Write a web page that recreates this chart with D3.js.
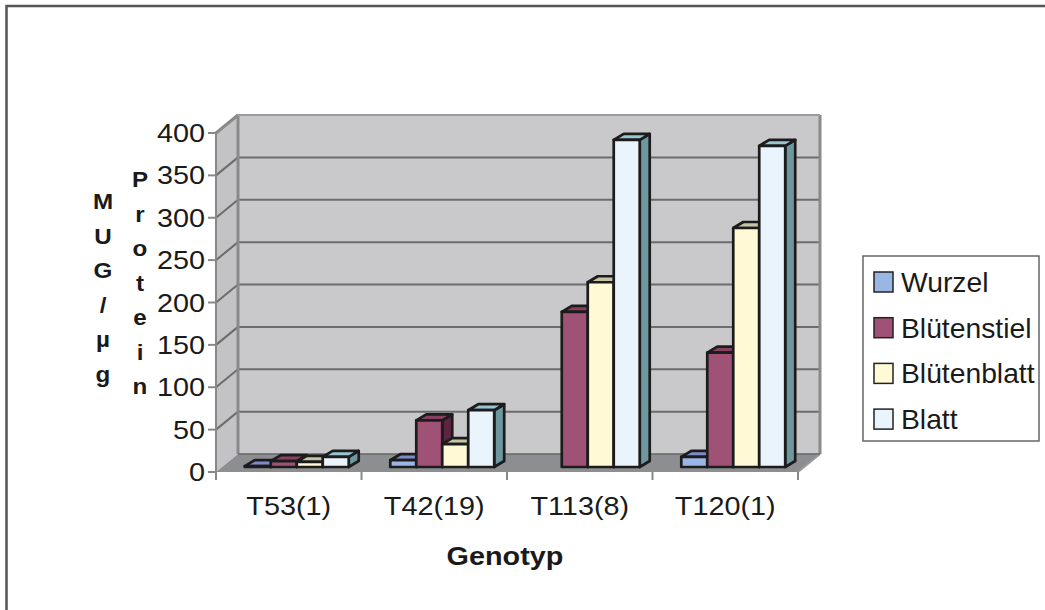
<!DOCTYPE html>
<html>
<head>
<meta charset="utf-8">
<script src="https://cdn.jsdelivr.net/npm/d3@7"></script>
<style>
  html, body { margin: 0; padding: 0; background: #fff; }
  svg { display: block; font-family: "Liberation Sans", Arial, sans-serif; }
</style>
</head>
<body>
<div id="chart"></div>
<script>
// data
const genotypes = ['T53(1)', 'T42(19)', 'T113(8)', 'T120(1)'];
const seriesNames = ['Wurzel', 'Blütenstiel', 'Blütenblatt', 'Blatt'];
const wurzel = [1, 8, null, 12];
const bluetenstiel = [7, 55, 183, 135];
const bluetenblatt = [6, 27, 218, 282];
const blatt = [12, 67, 386, 379];
const yTicks = [0, 50, 100, 150, 200, 250, 300, 350, 400];
const yTitleLeft = ['M', 'U', 'G', '/', 'µ', 'g'];
const yTitleRight = ['P', 'r', 'o', 't', 'e', 'i', 'n'];

const seriesValues = [wurzel, bluetenstiel, bluetenblatt, blatt];
const colors = [
  { front: '#99b6e4', top: '#7e8bca', side: '#5d6a9f' },
  { front: '#a05176', top: '#87405f', side: '#5c2441' },
  { front: '#fff9d6', top: '#c7c4a6', side: '#a3a189' },
  { front: '#eaf4fc', top: '#97c5d2', side: '#6f979f' }
];

const W = 1045, H = 610;
const x0 = 216, x1 = 798;          // front edge of floor
const DX = 22, DY = -18;           // wall depth
const BDX = 8, BDY = -5;           // bar position in depth
const BW = 10, BH = -6;            // bar depth

const svg = d3.select('#chart').append('svg')
  .attr('width', W).attr('height', H);

// outer frame
svg.append('rect')
  .attr('x', 6.5).attr('y', 6).attr('width', W + 20).attr('height', H + 20)
  .attr('fill', 'none').attr('stroke', '#555').attr('stroke-width', 2.5);

// Create scales
const xScale = d3.scaleBand().domain(genotypes).range([x0, x1]);
const inner = d3.scaleBand().domain(seriesNames)
  .range([0, xScale.bandwidth()]).paddingInner(0).paddingOuter(0.8);
const yScale = d3.scaleLinear().domain([0, 400]).range([472, 133]);

const yb = yScale(0);
const yt = yScale(400);

// walls
svg.append('polygon')
  .attr('points', [[x0, yb], [x0 + DX, yb + DY], [x0 + DX, yt + DY], [x0, yt]].join(' '))
  .attr('fill', '#c3c3c5');
svg.append('polygon')
  .attr('points', [[x0 + DX, yt + DY], [x1 + DX, yt + DY], [x1 + DX, yb + DY], [x0 + DX, yb + DY]].join(' '))
  .attr('fill', '#c9c9cb');
svg.append('polygon')
  .attr('points', [[x0, yb], [x1, yb], [x1 + DX, yb + DY], [x0 + DX, yb + DY]].join(' '))
  .attr('fill', '#8d8e91');

// gridlines on back wall and side wall
const grid = svg.append('g').attr('stroke', '#6c6c6c').attr('stroke-width', 2);
yTicks.filter(d => d > 0).forEach(d => {
  const y = yScale(d);
  grid.append('line')
    .attr('x1', x0 + DX).attr('x2', x1 + DX)
    .attr('y1', y + DY).attr('y2', y + DY);
  grid.append('line')
    .attr('x1', x0).attr('y1', y)
    .attr('x2', x0 + DX).attr('y2', y + DY);
});

// wall edges
const edges = svg.append('g').attr('stroke', '#8a8a8a').attr('stroke-width', 3).attr('fill', 'none');
edges.append('line').attr('x1', x0 + DX).attr('y1', yt + DY).attr('x2', x0 + DX).attr('y2', yb + DY);
edges.append('line').attr('x1', x1 + DX).attr('y1', yt + DY).attr('x2', x1 + DX).attr('y2', yb + DY);
edges.append('line').attr('x1', x0).attr('y1', yt).attr('x2', x0 + DX).attr('y2', yt + DY);
edges.append('line').attr('x1', x0 + DX).attr('y1', yt + DY).attr('x2', x1 + DX).attr('y2', yt + DY)
  .attr('stroke', '#aaa').attr('stroke-width', 1.5);
edges.append('line').attr('x1', x1).attr('y1', yb).attr('x2', x1 + DX).attr('y2', yb + DY)
  .attr('stroke', '#9a9a9a').attr('stroke-width', 2);
edges.append('line').attr('x1', x0 + DX).attr('y1', yb + DY).attr('x2', x1 + DX).attr('y2', yb + DY)
  .attr('stroke', '#666').attr('stroke-width', 1.5);

// bars, drawn left to right
const bars = svg.append('g')
  .attr('stroke', '#1c1c1c').attr('stroke-width', 2.7).attr('stroke-linejoin', 'round');
genotypes.forEach((g, gi) => {
  seriesNames.forEach((s, si) => {
    const v = seriesValues[si][gi];
    if (v == null) return;
    const x = xScale(g) + inner(s) + BDX;
    const w = inner.bandwidth();
    const ybot = yScale(0) + BDY;
    const ytop = yScale(v) + BDY;
    const c = colors[si];
    bars.append('polygon')
      .attr('points', [[x + w, ytop], [x + w + BW, ytop + BH], [x + w + BW, ybot + BH], [x + w, ybot]].join(' '))
      .attr('fill', c.side);
    bars.append('polygon')
      .attr('points', [[x, ytop], [x + w, ytop], [x + w + BW, ytop + BH], [x + BW, ytop + BH]].join(' '))
      .attr('fill', c.top);
    bars.append('rect')
      .attr('x', x).attr('y', ytop).attr('width', w).attr('height', ybot - ytop)
      .attr('fill', c.front);
  });
});

// stretched text helper (the original text is wider than Arial)
function label(x, y, txt, size, anchor, weight, sx) {
  svg.append('text')
    .attr('transform', 'translate(' + x + ',' + y + ') scale(' + (sx || 1.13) + ',1)')
    .attr('text-anchor', anchor)
    .attr('font-size', size)
    .attr('font-weight', weight || 'normal')
    .attr('fill', '#1a1a1a')
    .text(txt);
}

// y axis
const axisG = svg.append('g').attr('stroke', '#888').attr('stroke-width', 2);
axisG.append('line').attr('x1', x0).attr('x2', x0).attr('y1', yt).attr('y2', yb);
yTicks.forEach(d => {
  axisG.append('line').attr('x1', x0 - 8).attr('x2', x0).attr('y1', yScale(d)).attr('y2', yScale(d));
  label(205, yScale(d) + 9, d, 25.5, 'end');
});

// x axis ticks and labels
const xTickPos = genotypes.map(g => xScale(g)).concat([x1]);
xTickPos.forEach(xp => {
  axisG.append('line').attr('x1', xp).attr('x2', xp).attr('y1', yb).attr('y2', yb + 8);
});
genotypes.forEach(g => {
  label(xScale(g) + xScale.bandwidth() / 2, 515, g, 25.5, 'middle');
});

// axis titles
label(505, 565, 'Genotyp', 25.5, 'middle', 'bold');
yTitleLeft.forEach((ch, i) => label(103, 209 + i * 34.5, ch, 22, 'middle', 'bold', 1.1));
yTitleRight.forEach((ch, i) => label(140, 187 + i * 34.5, ch, 22, 'middle', 'bold', 1.1));

// legend
const legend = svg.append('g');
legend.append('rect')
  .attr('x', 863).attr('y', 256).attr('width', 176).attr('height', 185)
  .attr('fill', '#fff').attr('stroke', '#666').attr('stroke-width', 1.5);
seriesNames.forEach((s, i) => {
  const cy = 282 + i * 45.7;
  legend.append('rect')
    .attr('x', 874).attr('y', cy - 10).attr('width', 19).attr('height', 20)
    .attr('fill', colors[i].front).attr('stroke', '#222').attr('stroke-width', 1.5);
  label(901, cy + 10, s, 28, 'start', 'normal', 1.01);
});
</script>
</body>
</html>
